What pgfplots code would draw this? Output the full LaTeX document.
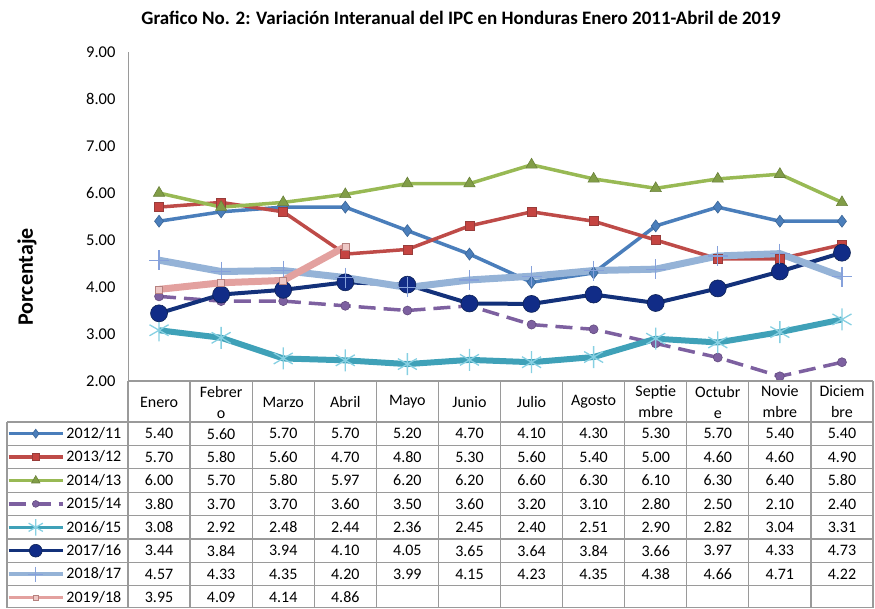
\documentclass[border=0pt]{standalone}
\usepackage{fontspec}
\setmainfont{Carlito}
\usepackage{pgfplots}
\usepackage{pgfplotstable}
\pgfplotsset{compat=1.18}
\definecolor{cA}{HTML}{4A7EBB}
\definecolor{cB}{HTML}{BE4B48}
\definecolor{cC}{HTML}{98B954}
\definecolor{cD}{HTML}{7D60A0}
\definecolor{cE}{HTML}{3FA1B8}
\definecolor{cEm}{HTML}{86D0E2}
\definecolor{cF}{HTML}{13317A}
\definecolor{cG}{HTML}{95B3D7}
\definecolor{cH}{HTML}{E3A19F}
\definecolor{grid}{HTML}{9A9A9A}

\pgfplotstableread{
m a b c d e f g h
1 5.40 5.70 6.00 3.80 3.08 3.44 4.57 3.95
2 5.60 5.80 5.70 3.70 2.92 3.84 4.33 4.09
3 5.70 5.60 5.80 3.70 2.48 3.94 4.35 4.14
4 5.70 4.70 5.97 3.60 2.44 4.10 4.20 4.86
5 5.20 4.80 6.20 3.50 2.36 4.05 3.99 nan
6 4.70 5.30 6.20 3.60 2.45 3.65 4.15 nan
7 4.10 5.60 6.60 3.20 2.40 3.64 4.23 nan
8 4.30 5.40 6.30 3.10 2.51 3.84 4.35 nan
9 5.30 5.00 6.10 2.80 2.90 3.66 4.38 nan
10 5.70 4.60 6.30 2.50 2.82 3.97 4.66 nan
11 5.40 4.60 6.40 2.10 3.04 4.33 4.71 nan
12 5.40 4.90 5.80 2.40 3.31 4.73 4.22 nan
}\data

\begin{document}
\begin{tikzpicture}[x=1pt,y=1pt]
\path[use as bounding box] (0,0) rectangle (875,-608);
\begin{axis}[
  at={(128pt,-381pt)}, anchor=south west,
  scale only axis, width=745pt, height=329pt,
  xmin=0.5, xmax=12.5, ymin=2, ymax=9,
  axis x line=none,
  axis y line*=left,
  y axis line style={grid, line width=1pt, -},
  ytick={2,...,9},
  yticklabel style={font=\fontsize{16.5}{18}\selectfont, xshift=-9pt},
  y tick label style={/pgf/number format/fixed, /pgf/number format/fixed zerofill, /pgf/number format/precision=2},
  /pgf/number format/assume math mode=true,
  major tick length=0pt,
  clip=false,
  unbounded coords=jump,
  legend style={at={(-121pt,-41pt)}, anchor=north west, draw=none, fill=none,
    inner sep=0pt, outer sep=0pt, row sep=0pt, column sep=2pt,
    font=\fontsize{16}{18}\selectfont,
    nodes={minimum height=23.4pt, inner sep=0pt, anchor=west}},
  legend cell align=left,
  legend image code/.code={\draw[mark repeat=2,mark phase=2,#1] plot coordinates {(0pt,0pt)(27pt,0pt)(54pt,0pt)};},
  legend image post style={line width=3.5pt, every mark/.append style={scale=0.75}},
]
\addplot[cA, line width=3.5pt, mark=diamond*, mark size=6pt, mark options={solid, fill=cA, draw=cA!80!black, line width=0.6pt}] table[x=m,y=a]{\data};
\addlegendentry{2012/11}
\addplot[cB, line width=3.5pt, mark=square*, mark size=4.5pt, mark options={solid, fill=cB!90!red, draw=cB!80!black, line width=0.6pt}] table[x=m,y=b]{\data};
\addlegendentry{2013/12}
\addplot[cC, line width=3.5pt, mark=triangle*, mark size=6.5pt, mark options={solid, fill=cC!85!black, draw=cC!70!black, line width=0.6pt}] table[x=m,y=c]{\data};
\addlegendentry{2014/13}
\addplot[cD, line width=3.5pt, dash pattern=on 17pt off 8pt, mark=*, mark size=4.5pt, mark options={solid, fill=cD, draw=cD!80!black, line width=0.6pt}] table[x=m,y=d]{\data};
\addlegendentry{2015/14}
\addplot[cE, line width=6pt, mark=asterisk, mark size=11pt, mark options={solid, draw=cEm, line width=1.3pt}] table[x=m,y=e]{\data};
\addlegendentry{2016/15}
\addplot[cF, line width=4pt, mark=*, mark size=8.5pt, mark options={solid, fill=cF!90!blue, draw=cF!70!black, line width=0.6pt}] table[x=m,y=f]{\data};
\addlegendentry{2017/16}
\addplot[cG, line width=7pt, mark=+, mark size=10pt, mark options={solid, draw=cG!90!blue, line width=1.2pt}] table[x=m,y=g]{\data};
\addlegendentry{2018/17}
\addplot[cH, line width=7pt, mark=square*, mark size=3.5pt, mark options={solid, fill=cH!60!white, draw=cH!80!black, line width=0.5pt}] table[x=m,y=h]{\data};
\addlegendentry{2019/18}
\end{axis}

% table grid
\begin{scope}[grid, line width=1.3pt]
  \draw (128,-381) -- (873,-381);
  \foreach \i in {0,...,12} { \draw ({128+62.083*\i},-381) -- ({128+62.083*\i},-608); }
  \draw (7,-422) -- (7,-608);
  \foreach \k in {0,...,7} { \draw (7,{-422-23.4*\k}) -- (873,{-422-23.4*\k}); }
  \draw (7,-607.5) -- (873,-607.5);
\end{scope}

% header
\begin{scope}[font=\fontsize{16}{21}\selectfont, align=center, inner sep=0pt]
\foreach \t [count=\i] in {Enero,{Febrer\\o},Marzo,Abril,Mayo,Junio,Julio,Agosto,{Septie\\mbre},{Octubr\\e},{Novie\\mbre},{Diciem\\bre}} {
  \node at ({128+62.083*(\i-0.5)},-402) {\t};
}
\end{scope}

% values
\begin{scope}[font=\fontsize{16}{18}\selectfont, inner sep=0pt]
\foreach \row [count=\k] in {
 {5.40,5.60,5.70,5.70,5.20,4.70,4.10,4.30,5.30,5.70,5.40,5.40},
 {5.70,5.80,5.60,4.70,4.80,5.30,5.60,5.40,5.00,4.60,4.60,4.90},
 {6.00,5.70,5.80,5.97,6.20,6.20,6.60,6.30,6.10,6.30,6.40,5.80},
 {3.80,3.70,3.70,3.60,3.50,3.60,3.20,3.10,2.80,2.50,2.10,2.40},
 {3.08,2.92,2.48,2.44,2.36,2.45,2.40,2.51,2.90,2.82,3.04,3.31},
 {3.44,3.84,3.94,4.10,4.05,3.65,3.64,3.84,3.66,3.97,4.33,4.73},
 {4.57,4.33,4.35,4.20,3.99,4.15,4.23,4.35,4.38,4.66,4.71,4.22},
 {3.95,4.09,4.14,4.86}} {
  \foreach \v [count=\i] in \row {
    \node at ({128+62.083*(\i-0.5)},{-422-23.4*(\k-0.5)}) {\v};
  }
}
\end{scope}

\node[font=\bfseries\fontsize{19}{21}\selectfont] at (461,-18) {Grafico No. 2: Variación Interanual del IPC en Honduras Enero 2011-Abril de 2019};
\node[font=\bfseries\fontsize{22}{24}\selectfont, rotate=90] at (27,-277) {Porcentaje};
\end{tikzpicture}
\end{document}
